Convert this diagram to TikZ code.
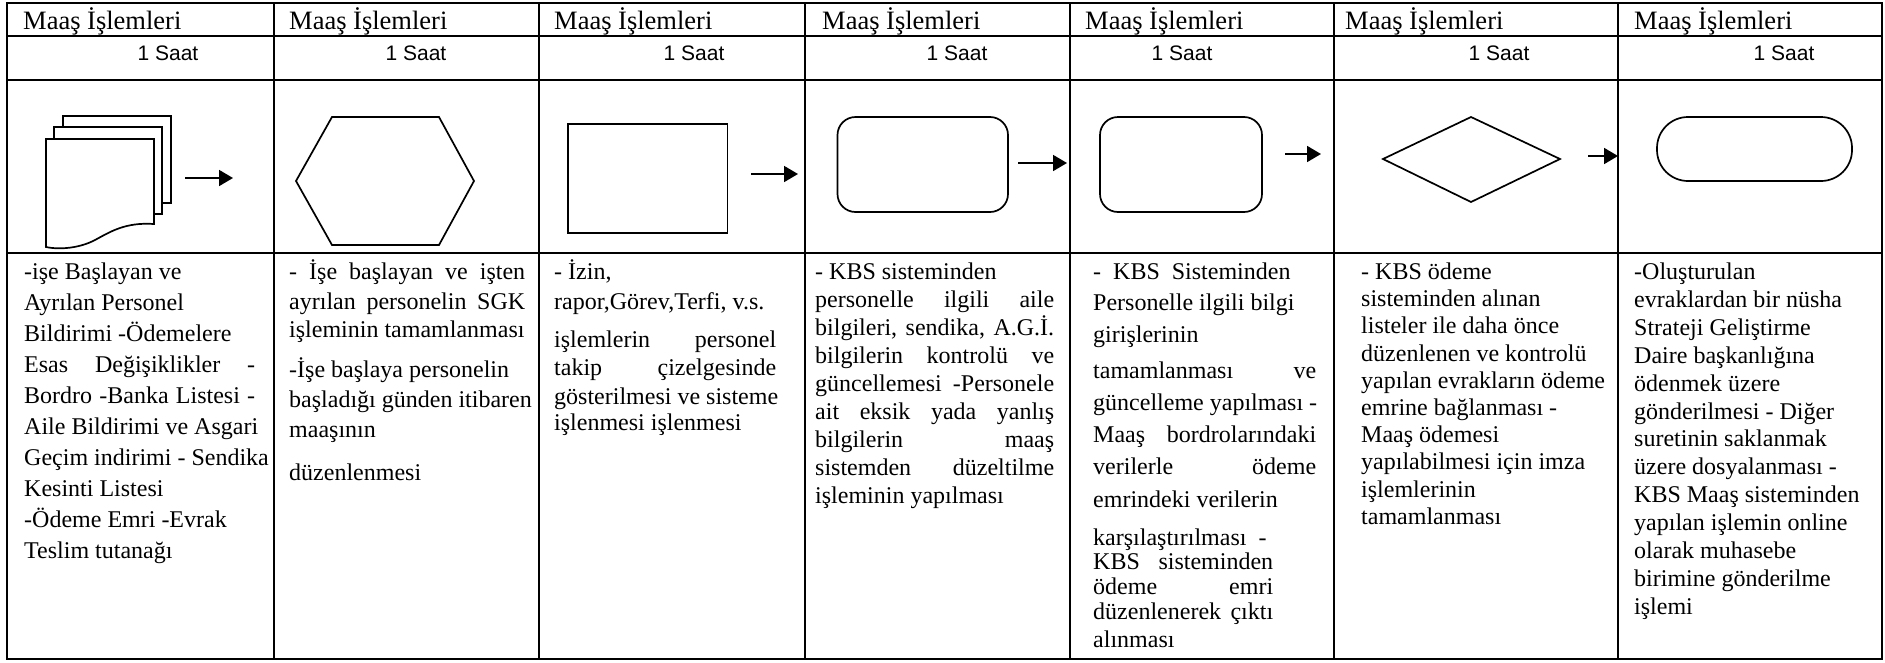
\documentclass[tikz,border=0pt]{standalone}
\usepackage{fontspec}
\setmainfont{Liberation Serif}
\newfontfamily\arialf{Liberation Sans}
\usetikzlibrary{arrows.meta}
\newcommand\bline[4]{\node[bl] (#1) at (#2,#3) {#4};}
\newcommand\jb[2]{\makebox[#1pt][s]{#2}}
\begin{document}
\begin{tikzpicture}[x=1pt,y=-1pt,
  grid/.style={line width=2.3pt},
  shp/.style={draw,line width=1.7pt,fill=white},
  arr/.style={line width=1.8pt,-{Triangle[length=14pt,width=16pt]}},
  hdr/.style={anchor=base west,inner sep=0pt,font=\fontsize{26.5}{30}\selectfont},
  saat/.style={anchor=base,inner sep=0pt,font=\arialf\fontsize{21}{24}\selectfont},
  bl/.style={anchor=base west,inner sep=0pt,font=\fontsize{24}{28}\selectfont},
]
\useasboundingbox (0,0) rectangle (1885,662);
% table
\draw[grid] (7,3) rectangle (1882,659);
\foreach \yy in {36,80,253} \draw[grid] (7,\yy) -- (1882,\yy);
\foreach \xx in {274,539,805,1070,1334,1618} \draw[grid] (\xx,3) -- (\xx,659);
% headers
\foreach \xx/\n in {23/1,289/2,554/3,822/4,1085/5,1345/6,1634/7}
  \node[hdr] (h\n) at (\xx,29.5) {Maaş İşlemleri};
\foreach \xx/\n in {168/1,416/2,694/3,957/4,1182/5,1499/6,1784/7}
  \node[saat] (s\n) at (\xx,60) {1 Saat};
% shapes
\draw[shp] (63,116) rectangle (171,203);
\draw[shp] (54,127) rectangle (162,214);
\draw[shp] (46,139) -- (154,139) -- (154,224) .. controls (125,222) and (110,232) .. (95,240)
   .. controls (80,248) and (60,250) .. (46,247) -- cycle;
\draw[shp] (296,181) -- (332,117) -- (439,117) -- (474,181) -- (439,245) -- (332,245) -- cycle;
\node[shp,minimum width=159.5pt,minimum height=108.5pt,inner sep=0pt] (rect3) at (647.75,178.5) {};
\node[shp,rounded corners=18pt,minimum width=170.5pt,minimum height=95pt,inner sep=0pt] (rr4) at (922.75,164.5) {};
\node[shp,rounded corners=18pt,minimum width=162pt,minimum height=95pt,inner sep=0pt] (rr5) at (1181,164.5) {};
\draw[shp] (1383,159) -- (1471,117) -- (1560,159) -- (1471,202) -- cycle;
\node[shp,rounded corners=31pt,minimum width=195pt,minimum height=64pt,inner sep=0pt] (st7) at (1754.5,149) {};
% arrows
\coordinate (a1s) at (185,178); \coordinate (a1e) at (233,178);
\coordinate (a3s) at (751,174); \coordinate (a3e) at (798,174);
\coordinate (a4s) at (1018,163); \coordinate (a4e) at (1067,163);
\coordinate (a5s) at (1285,154); \coordinate (a5e) at (1321,154);
\coordinate (a6s) at (1588,156); \coordinate (a6e) at (1618,156);
\foreach \n in {1,3,4,5,6} \draw[arr] (a\n s) -- (a\n e);
% column 1
\bline{c1a}{24}{279}{-işe Başlayan ve}
\bline{c1b}{24}{310}{Ayrılan Personel}
\bline{c1c}{24}{341}{Bildirimi -Ödemelere}
\bline{c1d}{24}{372}{\jb{231}{Esas Değişiklikler -}}
\bline{c1e}{24}{403}{\jb{231}{Bordro -Banka Listesi -}}
\bline{c1f}{24}{434}{Aile Bildirimi ve Asgari}
\bline{c1g}{24}{465}{Geçim indirimi - Sendika}
\bline{c1h}{24}{496}{Kesinti Listesi}
\bline{c1i}{24}{527}{-Ödeme Emri -Evrak}
\bline{c1j}{24}{558}{Teslim tutanağı}
% column 2
\bline{c2a}{289}{279}{\jb{236}{- İşe başlayan ve işten}}
\bline{c2b}{289}{309}{\jb{236}{ayrılan personelin SGK}}
\bline{c2c}{289}{337}{işleminin tamamlanması}
\bline{c2d}{289}{377}{-İşe başlaya personelin}
\bline{c2e}{289}{407}{başladığı günden itibaren}
\bline{c2f}{289}{437}{maaşının}
\bline{c2g}{289}{480}{düzenlenmesi}
% column 3
\bline{c3a}{554}{279}{- İzin,}
\bline{c3b}{554}{309}{rapor,Görev,Terfi, v.s.}
\bline{c3c}{554}{347}{\jb{222}{işlemlerin personel}}
\bline{c3d}{554}{375}{\jb{222}{takip çizelgesinde}}
\bline{c3e}{554}{404}{gösterilmesi ve sisteme}
\bline{c3f}{554}{430}{işlenmesi işlenmesi}
% column 4
\bline{c4a}{815}{279}{- KBS sisteminden}
\bline{c4b}{815}{307}{\jb{239}{personelle ilgili aile}}
\bline{c4c}{815}{335}{\jb{239}{bilgileri, sendika, A.G.İ.}}
\bline{c4d}{815}{363}{\jb{239}{bilgilerin kontrolü ve}}
\bline{c4e}{815}{391}{\jb{239}{güncellemesi -Personele}}
\bline{c4f}{815}{419}{\jb{239}{ait eksik yada yanlış}}
\bline{c4g}{815}{447}{\jb{239}{bilgilerin maaş}}
\bline{c4h}{815}{475}{\jb{239}{sistemden düzeltilme}}
\bline{c4i}{815}{503}{işleminin yapılması}
% column 5
\bline{c5a}{1093}{279}{-\ \ KBS\ \ Sisteminden}
\bline{c5b}{1093}{310}{Personelle ilgili bilgi}
\bline{c5c}{1093}{342}{girişlerinin}
\bline{c5d}{1093}{378}{\jb{223}{tamamlanması ve}}
\bline{c5e}{1093}{410}{güncelleme yapılması -}
\bline{c5f}{1093}{442}{\jb{223}{Maaş bordrolarındaki}}
\bline{c5g}{1093}{474}{\jb{223}{verilerle ödeme}}
\bline{c5h}{1093}{507}{emrindeki verilerin}
\bline{c5i}{1093}{545}{karşılaştırılması\ \ -}
\bline{c5j}{1093}{569}{\jb{180}{KBS sisteminden}}
\bline{c5k}{1093}{594}{\jb{180}{ödeme emri}}
\bline{c5l}{1093}{619}{\jb{180}{düzenlenerek çıktı}}
\bline{c5m}{1093}{647}{alınması}
% column 6
\bline{c6a}{1361}{279}{- KBS ödeme}
\bline{c6b}{1361}{306}{sisteminden alınan}
\bline{c6c}{1361}{333}{listeler ile daha önce}
\bline{c6d}{1361}{361}{düzenlenen ve kontrolü}
\bline{c6e}{1361}{388}{yapılan evrakların ödeme}
\bline{c6f}{1361}{415}{emrine bağlanması -}
\bline{c6g}{1361}{442}{Maaş ödemesi}
\bline{c6h}{1361}{469}{yapılabilmesi için imza}
\bline{c6i}{1361}{497}{işlemlerinin}
\bline{c6j}{1361}{524}{tamamlanması}
% column 7
\bline{c7a}{1634}{279}{-Oluşturulan}
\bline{c7b}{1634}{307}{evraklardan bir nüsha}
\bline{c7c}{1634}{335}{Strateji Geliştirme}
\bline{c7d}{1634}{363}{Daire başkanlığına}
\bline{c7e}{1634}{391}{ödenmek üzere}
\bline{c7f}{1634}{419}{gönderilmesi - Diğer}
\bline{c7g}{1634}{446}{suretinin saklanmak}
\bline{c7h}{1634}{474}{üzere dosyalanması -}
\bline{c7i}{1634}{502}{KBS Maaş sisteminden}
\bline{c7j}{1634}{530}{yapılan işlemin online}
\bline{c7k}{1634}{558}{olarak muhasebe}
\bline{c7l}{1634}{586}{birimine gönderilme}
\bline{c7m}{1634}{614}{işlemi}
\end{tikzpicture}
\end{document}
